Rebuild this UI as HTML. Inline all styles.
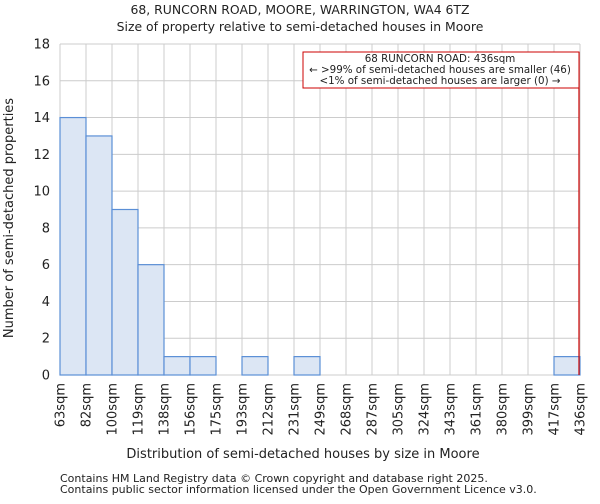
<!DOCTYPE html>
<html><head><meta charset="utf-8"><style>
body{margin:0;background:#fff;font-family:"DejaVu Sans","Liberation Sans",sans-serif;}
svg text{font-family:"DejaVu Sans","Liberation Sans",sans-serif;fill:#222;}
</style></head><body>
<svg id="chart" width="600" height="500" xmlns="http://www.w3.org/2000/svg">
<text x="300" y="14" font-size="12.4" text-anchor="middle">68, RUNCORN ROAD, MOORE, WARRINGTON, WA4 6TZ</text>
<text x="300" y="31" font-size="12.4" text-anchor="middle">Size of property relative to semi-detached houses in Moore</text>
<g id="grid"></g><g id="bars"></g><g id="axes"></g>
<text x="303" y="458" font-size="13" text-anchor="middle">Distribution of semi-detached houses by size in Moore</text>
<text transform="translate(13,218) rotate(-90)" font-size="13" text-anchor="middle">Number of semi-detached properties</text>
<line x1="579" y1="52" x2="579" y2="375" stroke="#c00" stroke-width="1.2"/>
<rect x="303" y="52" width="276" height="36" fill="#fff" stroke="#c00" stroke-width="1"/>
<text x="440" y="62" font-size="10.3" text-anchor="middle">68 RUNCORN ROAD: 436sqm</text>
<text x="440" y="73" font-size="10.3" text-anchor="middle">← &gt;99% of semi-detached houses are smaller (46)</text>
<text x="440" y="84" font-size="10.3" text-anchor="middle">&lt;1% of semi-detached houses are larger (0) →</text>
<text x="60" y="482" font-size="11" fill="#444">Contains HM Land Registry data © Crown copyright and database right 2025.</text>
<text x="60" y="493" font-size="11" fill="#444">Contains public sector information licensed under the Open Government Licence v3.0.</text>
</svg>
<script>
const binLabels=["63sqm","82sqm","100sqm","119sqm","138sqm","156sqm","175sqm","193sqm","212sqm","231sqm","249sqm","268sqm","287sqm","305sqm","324sqm","343sqm","361sqm","380sqm","399sqm","417sqm","436sqm"];
const counts=[14,13,9,6,1,1,0,1,0,1,0,0,0,0,0,0,0,0,0,1];
const yTicks=[0,2,4,6,8,10,12,14,16,18];
const NS="http://www.w3.org/2000/svg";
const L=60,R=580,T=44,B=375,yMax=18;
const xs=i=>L+(R-L)*i/counts.length;
const ys=v=>B-(B-T)*v/yMax;
function mk(tag,attrs,parent){const e=document.createElementNS(NS,tag);for(const k in attrs)e.setAttribute(k,attrs[k]);document.getElementById(parent).appendChild(e);return e;}
for(let i=0;i<binLabels.length;i++){
 const g=mk('line',{x1:xs(i),x2:xs(i),y1:T,y2:B,stroke:'#ccc','stroke-width':1},'grid');
 
 
 const t=mk('text',{transform:`translate(${xs(i)+4.5},${B+8}) rotate(-90)`,'font-size':13,'text-anchor':'end'},'axes');
 t.textContent=binLabels[i];
 
 
}
yTicks.forEach(v=>{
 const g=mk('line',{x1:L,x2:R,y1:ys(v),y2:ys(v),stroke:'#ccc','stroke-width':1},'grid');
 
 
 const t=mk('text',{x:L-10,y:ys(v)+4.5,'font-size':13,'text-anchor':'end'},'axes');
 t.textContent=v;
 
 
});
counts.forEach((c,i)=>{
 if(c<=0)return;
 const r=mk('rect',{x:xs(i),y:ys(c),width:xs(i+1)-xs(i),height:B-ys(c),fill:'#dce6f4',stroke:'#5b8fd6','stroke-width':1.2},'bars');
 
 
});
</script>
</body></html>
